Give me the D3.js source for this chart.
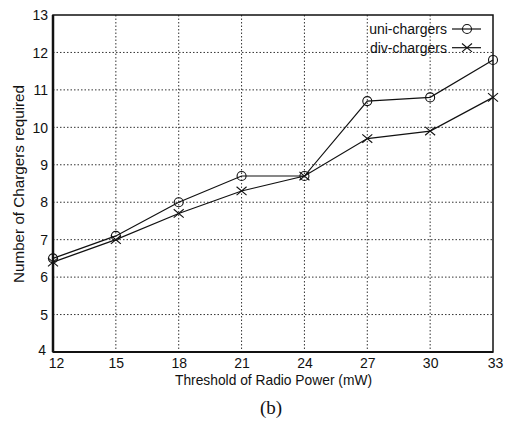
<!DOCTYPE html>
<html>
<head>
<meta charset="utf-8">
<script src="https://cdn.jsdelivr.net/npm/d3@7"></script>
<style>
  body { margin: 0; background: #fff; }
  text { font-family: "Liberation Sans", Arial, sans-serif; fill: #111; }
</style>
</head>
<body>
<div id="root"></div>
<script>
// Data
const thresholds = [12, 15, 18, 21, 24, 27, 30, 33]
const uniChargers = [6.5, 7.1, 8.0, 8.7, 8.7, 10.7, 10.8, 11.8]
const divChargers = [6.4, 7.0, 7.7, 8.3, 8.7, 9.7, 9.9, 10.8]
const yTicks = [4, 5, 6, 7, 8, 9, 10, 11, 12, 13]

const W = 510, H = 421
const margin = { top: 15, right: 17, bottom: 69, left: 53 }
const width = W - margin.left - margin.right
const height = H - margin.top - margin.bottom

const svg = d3.select("#root").append("svg")
  .attr("width", W)
  .attr("height", H)

const g = svg.append("g")
  .attr("transform", `translate(${margin.left},${margin.top})`)

const x = d3.scaleLinear().domain([12, 33]).range([0, width])
const y = d3.scaleLinear().domain([4, 13]).range([height, 0])

// dotted grid
const grid = g.append("g")
grid.selectAll(".vgrid")
  .data(thresholds.slice(1, -1))
  .enter().append("line")
  .attr("x1", d => x(d)).attr("x2", d => x(d))
  .attr("y1", 0).attr("y2", height)
  .attr("stroke", "#333").attr("stroke-width", 1)
  .attr("stroke-dasharray", "1.5,2")
grid.selectAll(".hgrid")
  .data(yTicks.slice(1, -1))
  .enter().append("line")
  .attr("x1", 0).attr("x2", width)
  .attr("y1", d => y(d)).attr("y2", d => y(d))
  .attr("stroke", "#333").attr("stroke-width", 1)
  .attr("stroke-dasharray", "1.5,2")

// axes
const xAxis = g.append("g")
  .attr("transform", `translate(0,${height})`)
  .call(d3.axisBottom(x).tickValues(thresholds).tickSize(0))
xAxis.select(".domain").remove()
xAxis.selectAll("text")
  .attr("font-size", 14).attr("y", 16).attr("dy", 0)
  .attr("dx", d => d === 12 ? 3 : d === 33 ? 2 : 0)

const yAxis = g.append("g")
  .call(d3.axisLeft(y).tickValues(yTicks).tickSize(0).tickPadding(5))
yAxis.select(".domain").remove()
yAxis.selectAll("text").attr("font-size", 14)
  .attr("dx", d => d === 4 ? -2 : 0)
  .attr("dy", d => d === 4 ? "0.2em" : "0.34em")

// frame
g.append("rect")
  .attr("width", width).attr("height", height)
  .attr("fill", "none").attr("stroke", "#111").attr("stroke-width", 1.5)
g.append("line").attr("x1", 0).attr("x2", 0).attr("y1", 0).attr("y2", height)
  .attr("stroke", "#111").attr("stroke-width", 2.5)
g.append("line").attr("x1", 0).attr("x2", width).attr("y1", height).attr("y2", height)
  .attr("stroke", "#111").attr("stroke-width", 2.2)

// lines
const line = d3.line()
  .x((d, i) => x(thresholds[i]))
  .y(d => y(d))

const series = [
  { name: "uni-chargers", values: uniChargers, marker: "circle" },
  { name: "div-chargers", values: divChargers, marker: "cross" }
]

function drawMarker(sel, type, cx, cy) {
  if (type === "circle") {
    sel.append("circle").attr("cx", cx).attr("cy", cy).attr("r", 4.5)
      .attr("fill", "none").attr("stroke", "#111").attr("stroke-width", 1.1)
  } else {
    const sx = 5, sy = 4.2
    sel.append("path")
      .attr("d", `M${cx - sx},${cy - sy}L${cx + sx},${cy + sy}M${cx - sx},${cy + sy}L${cx + sx},${cy - sy}`)
      .attr("stroke", "#111").attr("stroke-width", 1.1)
  }
}

series.forEach(s => {
  g.append("path")
    .datum(s.values)
    .attr("fill", "none")
    .attr("stroke", "#111")
    .attr("stroke-width", 1.2)
    .attr("d", line)
  const mg = g.append("g")
  s.values.forEach((v, i) => drawMarker(mg, s.marker, x(thresholds[i]), y(v)))
})

// legend
const legend = g.append("g")
series.forEach((s, i) => {
  const ly = 14 + i * 18.7
  legend.append("text")
    .attr("x", 394).attr("y", ly)
    .attr("dy", "0.36em")
    .attr("text-anchor", "end")
    .attr("font-size", 14)
    .text(s.name)
  legend.append("line")
    .attr("x1", 399).attr("x2", 428)
    .attr("y1", ly).attr("y2", ly)
    .attr("stroke", "#111").attr("stroke-width", 1.2)
  drawMarker(legend, s.marker, 414, ly)
})

// axis titles
svg.append("text")
  .attr("x", margin.left + width / 2 + 0.5)
  .attr("y", 385)
  .attr("text-anchor", "middle")
  .attr("font-size", 15)
  .attr("textLength", 197)
  .attr("lengthAdjust", "spacingAndGlyphs")
  .text("Threshold of Radio Power (mW)")

svg.append("text")
  .attr("transform", `translate(24,184) rotate(-90)`)
  .attr("text-anchor", "middle")
  .attr("font-size", 15)
  .attr("textLength", 198)
  .attr("lengthAdjust", "spacingAndGlyphs")
  .text("Number of Chargers required")

svg.append("text")
  .attr("x", 271)
  .attr("y", 414)
  .attr("text-anchor", "middle")
  .attr("font-size", 19)
  .style("font-family", "'Liberation Serif', 'DejaVu Serif', serif")
  .text("(b)")
</script>
</body>
</html>
